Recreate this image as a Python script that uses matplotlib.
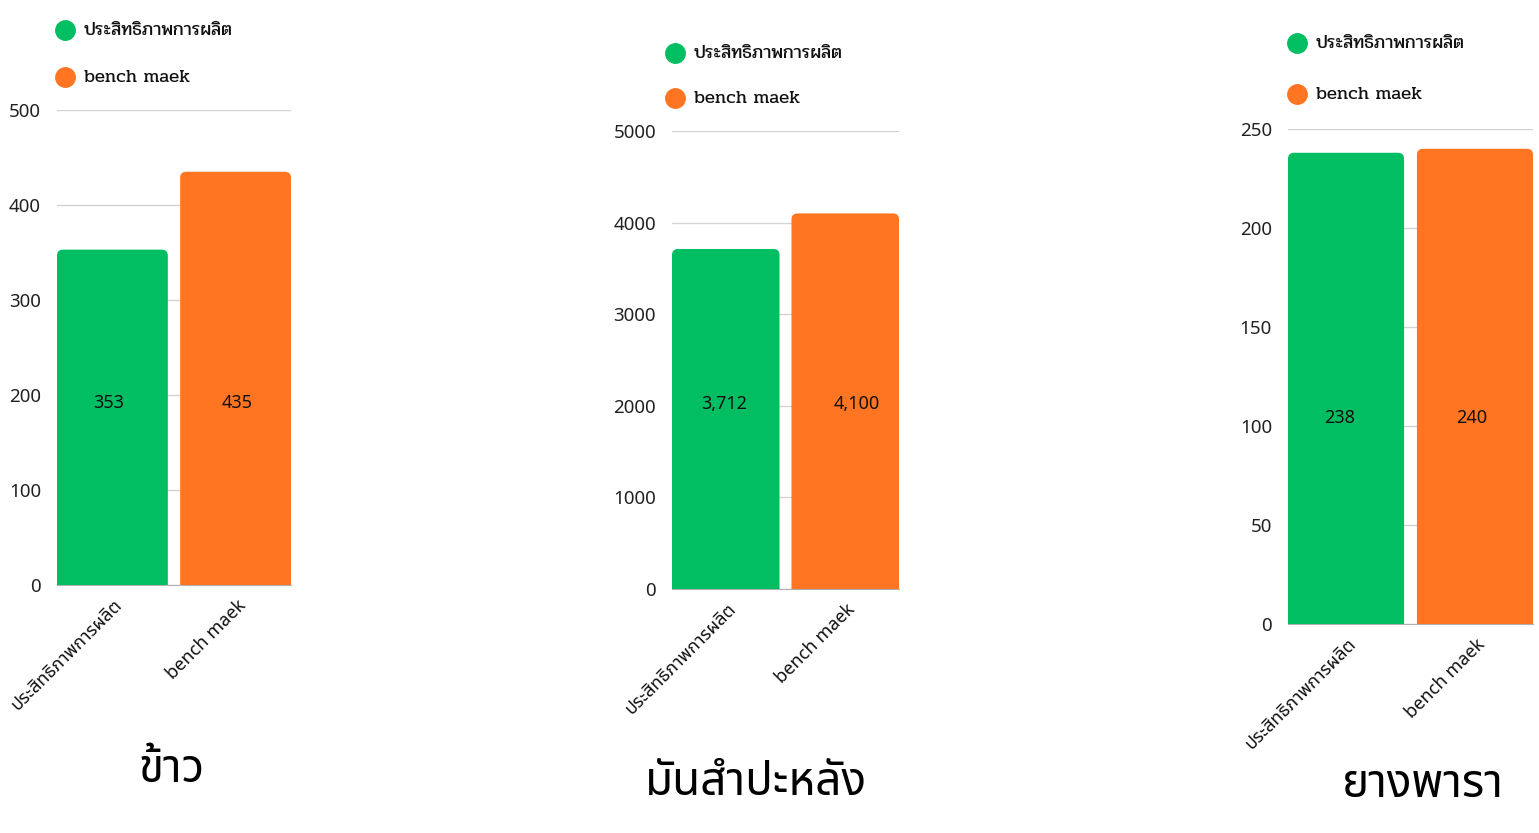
import matplotlib
matplotlib.use("Agg")
import matplotlib.pyplot as plt
from matplotlib.patches import FancyBboxPatch
from matplotlib.lines import Line2D
import matplotlib.transforms as mtransforms

plt.rcParams['font.family'] = ['Noto Sans Thai', 'DejaVu Sans']

# data
categories = ['ประสิทธิภาพการผลิต', 'bench maek']
titles = ['ข้าว', 'มันสำปะหลัง', 'ยางพารา']
rice = [353, 435]
cassava = [3712, 4100]
rubber = [238, 240]
series = [rice, cassava, rubber]
y_max = [500, 5000, 250]
y_step = [100, 1000, 50]
value_labels = [['353', '435'], ['3,712', '4,100'], ['238', '240']]

GREEN = '#02BE62'
ORANGE = '#FF7522'
colors = [GREEN, ORANGE]

W, H = 1539, 833
# axes boxes in pixels: left, right, top, bottom
boxes = [(57, 291, 110, 585), (672, 899, 131, 589), (1288, 1533, 129, 624)]
legend_x = [65, 675, 1297]
legend_y = [(30, 77), (53, 98), (43, 94)]
label_frac = [0.383, 0.404, 0.416]
label_dx = [(-4, 2), (-2, 12), (-6, -3)]  # small pixel nudges of the value labels
title_pos = [(172, 770), (756, 783), (1423, 785)]

fig = plt.figure(figsize=(W / 100, H / 100), dpi=100)


def rounded_bars(ax, values, width, radius_px=6):
    fig.canvas.draw()
    inv = ax.transData.inverted()
    p0 = inv.transform((0, 0))
    p1 = inv.transform((1, 1))
    x_per_px = abs(p1[0] - p0[0])
    y_per_px = abs(p1[1] - p0[1])
    r = radius_px * x_per_px
    aspect = y_per_px / x_per_px
    for i, v in enumerate(values):
        patch = FancyBboxPatch((i - width / 2, -radius_px * 2 * y_per_px), width,
                               v + radius_px * 2 * y_per_px,
                               boxstyle=f"round,pad=0,rounding_size={r}",
                               mutation_aspect=aspect,
                               facecolor=colors[i], edgecolor='none', zorder=3)
        patch.set_clip_on(True)
        ax.add_patch(patch)


for k in range(3):
    left, right, top, bottom = boxes[k]
    ax = fig.add_axes([left / W, 1 - bottom / H, (right - left) / W, (bottom - top) / H])
    width = 0.9
    ax.set_xlim(-width / 2, 1 + width / 2)
    ax.set_ylim(0, y_max[k])
    ax.set_yticks(range(0, y_max[k] + 1, y_step[k]))
    ax.grid(axis='y', color='#d3d3d3', linewidth=1, zorder=0)
    ax.set_axisbelow(True)
    for s in ['left', 'right', 'top']:
        ax.spines[s].set_visible(False)
    ax.spines['bottom'].set_color('#b0b0b0')
    ax.tick_params(axis='y', length=0, pad=11.5, labelsize=13.5, labelcolor='#222222')
    ax.tick_params(axis='x', length=0, pad=8)
    ax.set_xticks([0, 1])
    ax.set_xticklabels(categories, rotation=45, ha='right', rotation_mode='anchor',
                       fontsize=13, color='#111111')
    for lab in ax.get_xticklabels():
        lab.set_transform(lab.get_transform() + mtransforms.ScaledTranslation(1 / 100, 0, fig.dpi_scale_trans))

    rounded_bars(ax, series[k], width)

    trans = mtransforms.blended_transform_factory(ax.transData, ax.transAxes)
    for i, txt in enumerate(value_labels[k]):
        t = trans + mtransforms.ScaledTranslation(label_dx[k][i] / 100, 0, fig.dpi_scale_trans)
        ax.text(i, label_frac[k], txt, transform=t, ha='center', va='center',
                fontsize=13, color='#111111', zorder=4)

    # legend
    ly = legend_y[k]
    lx = legend_x[k]
    for i, cat in enumerate(categories):
        fig.add_artist(Line2D([lx / W], [1 - ly[i] / H], marker='o', markersize=14,
                              color=colors[i], linestyle='none', transform=fig.transFigure))
        fig.text((lx + 19) / W, 1 - (ly[i] + 1) / H, cat, ha='left', va='center',
                 fontsize=13.4, family=['Pridi', 'Noto Sans Thai'], color='#111111')

    tx, tyy = title_pos[k]
    fig.text(tx / W, 1 - tyy / H, titles[k], ha='center', va='center', fontsize=33,
             fontweight='medium', color='#000000')

fig.savefig('out.png', dpi=100)
